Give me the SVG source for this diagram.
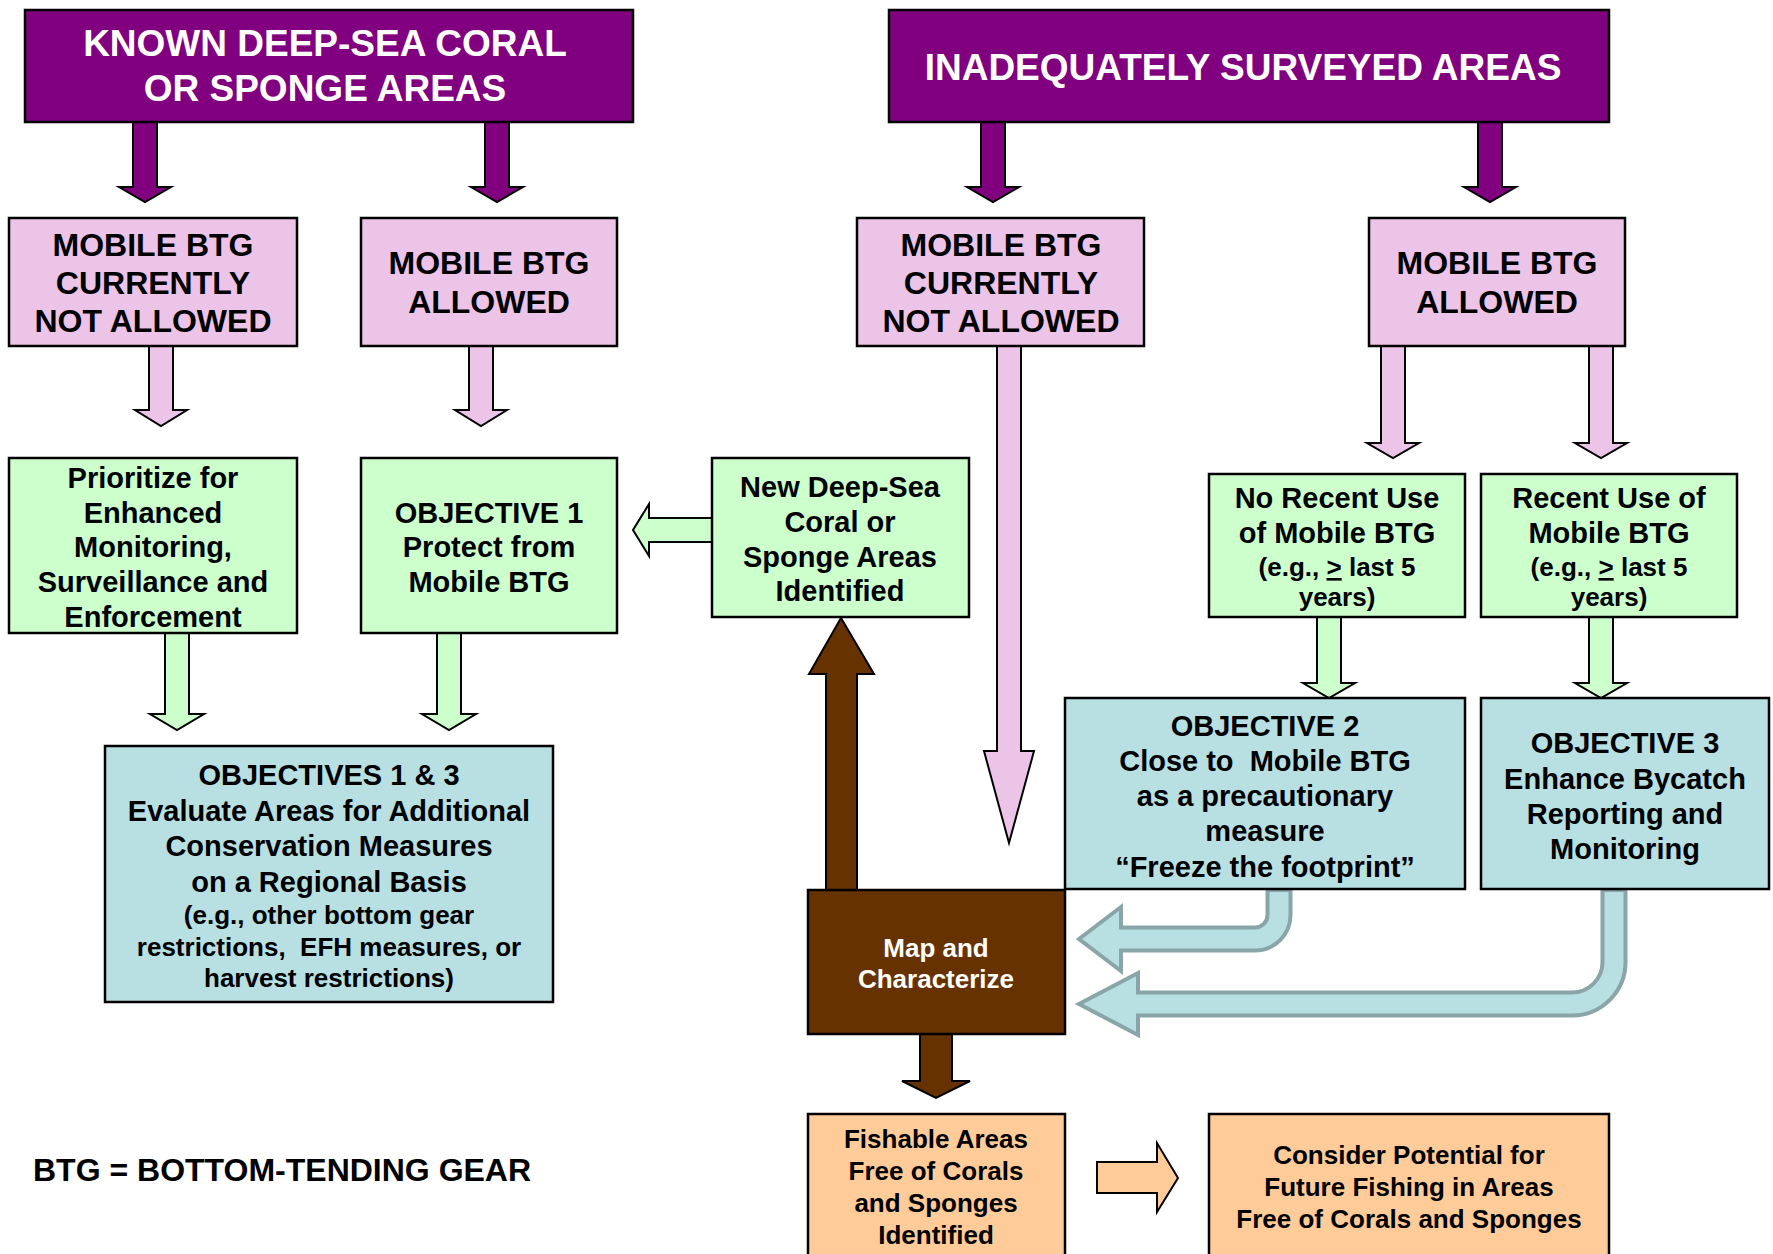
<svg xmlns="http://www.w3.org/2000/svg" width="1773" height="1254" viewBox="0 0 1773 1254">
<style>
text{font-family:"Liberation Sans",Arial,sans-serif;font-weight:bold;text-anchor:middle;fill:#000}
.w{fill:#fff}
.f36{font-size:37px}.f31{font-size:32px}.f29{font-size:29px}.f26{font-size:26px}
.pur{fill:#800080;stroke:#000;stroke-width:2.5}
.pink{fill:#ECC4E8;stroke:#000;stroke-width:2.5}
.grn{fill:#CCFFCC;stroke:#000;stroke-width:2.5}
.blu{fill:#B8DFE1;stroke:#000;stroke-width:2.5}
.brn{fill:#663300;stroke:#000;stroke-width:2.5}
.org{fill:#FFCC99;stroke:#000;stroke-width:2.5}
.ar{stroke:#000;stroke-width:2;stroke-linejoin:miter}
.cvo{fill:none;stroke:#8AA5A7;stroke-width:27}
.cvi{fill:none;stroke:#B8DFE1;stroke-width:19}
.cvh{fill:#B8DFE1;stroke:#8AA5A7;stroke-width:4;stroke-linejoin:miter}
</style>
<rect width="1773" height="1254" fill="#fff"/>
<g id="connectors">
<polygon class="ar" fill="#800080" points="133,122 157,122 157,187 171,187 145,202 119,187 133,187"/>
<polygon class="ar" fill="#800080" points="485,122 509,122 509,187 523,187 497,202 471,187 485,187"/>
<polygon class="ar" fill="#800080" points="981,122 1005,122 1005,187 1019,187 993,202 967,187 981,187"/>
<polygon class="ar" fill="#800080" points="1478,122 1502,122 1502,187 1516,187 1490,202 1464,187 1478,187"/>
<polygon class="ar" fill="#ECC4E8" points="149,346 173,346 173,410 187,410 161,426 135,410 149,410"/>
<polygon class="ar" fill="#ECC4E8" points="469,346 493,346 493,410 507,410 481,426 455,410 469,410"/>
<polygon class="ar" fill="#ECC4E8" points="997,346 1021,346 1021,751 1034,751 1009,843 984,751 997,751"/>
<polygon class="ar" fill="#ECC4E8" points="1381,346 1405,346 1405,443 1419,443 1393,458 1367,443 1381,443"/>
<polygon class="ar" fill="#ECC4E8" points="1589,346 1613,346 1613,443 1627,443 1601,458 1575,443 1589,443"/>
<polygon class="ar" fill="#CCFFCC" points="165,633 189,633 189,714 204,714 177,730 150,714 165,714"/>
<polygon class="ar" fill="#CCFFCC" points="437,633 461,633 461,714 476,714 449,730 422,714 437,714"/>
<polygon class="ar" fill="#CCFFCC" points="1317,617 1341,617 1341,683 1355,683 1329,698 1303,683 1317,683"/>
<polygon class="ar" fill="#CCFFCC" points="1589,617 1613,617 1613,683 1627,683 1601,698 1575,683 1589,683"/>
<polygon class="ar" fill="#CCFFCC" points="712,518 649,518 649,504 633,530 649,556 649,542 712,542"/>
<polygon class="ar" fill="#663300" points="826,890 826,674 809,674 841,618 874,674 857,674 857,890"/>
<polygon class="ar" fill="#663300" points="920,1034 952,1034 952,1081 970,1081 936,1098 902,1081 920,1081"/>
<polygon class="ar" fill="#FFCC99" points="1097,1162 1157,1162 1157,1143 1178,1178 1157,1212 1157,1193 1097,1193"/>
<path class="cvo" d="M1279,888 V915 A24,24 0 0 1 1255,939 H1118"/>
<polygon class="cvh" points="1079,939 1121,907 1121,971"/>
<path class="cvi" d="M1279,892 V915 A24,24 0 0 1 1255,939 H1112"/>
<path class="cvo" d="M1614,888 V962 A42,42 0 0 1 1572,1004 H1135"/>
<polygon class="cvh" points="1079,1004 1138,973 1138,1035"/>
<path class="cvi" d="M1614,892 V962 A42,42 0 0 1 1572,1004 H1129"/>
</g>
<g id="known">
<rect class="pur" x="25" y="10" width="608" height="112"/>
<text class="f36 w" x="325" y="56">KNOWN DEEP-SEA CORAL</text>
<text class="f36 w" x="325" y="101">OR SPONGE AREAS</text>
</g>
<g id="inadequate">
<rect class="pur" x="889" y="10" width="720" height="112"/>
<text class="f36 w" x="1243" y="80">INADEQUATELY SURVEYED AREAS</text>
</g>
<g id="pink1">
<rect class="pink" x="9" y="218" width="288" height="128"/>
<text class="f31" x="153" y="256">MOBILE BTG</text>
<text class="f31" x="153" y="294">CURRENTLY</text>
<text class="f31" x="153" y="332">NOT ALLOWED</text>
</g>
<g id="pink2">
<rect class="pink" x="361" y="218" width="256" height="128"/>
<text class="f31" x="489" y="274">MOBILE BTG</text>
<text class="f31" x="489" y="313">ALLOWED</text>
</g>
<g id="pink3">
<rect class="pink" x="857" y="218" width="287" height="128"/>
<text class="f31" x="1001" y="256">MOBILE BTG</text>
<text class="f31" x="1001" y="294">CURRENTLY</text>
<text class="f31" x="1001" y="332">NOT ALLOWED</text>
</g>
<g id="pink4">
<rect class="pink" x="1369" y="218" width="256" height="128"/>
<text class="f31" x="1497" y="274">MOBILE BTG</text>
<text class="f31" x="1497" y="313">ALLOWED</text>
</g>
<g id="prioritize">
<rect class="grn" x="9" y="458" width="288" height="175"/>
<text class="f29" x="153" y="488">Prioritize for</text>
<text class="f29" x="153" y="523">Enhanced</text>
<text class="f29" x="153" y="557">Monitoring,</text>
<text class="f29" x="153" y="592">Surveillance and</text>
<text class="f29" x="153" y="627">Enforcement</text>
</g>
<g id="objective1">
<rect class="grn" x="361" y="458" width="256" height="175"/>
<text class="f29" x="489" y="523">OBJECTIVE 1</text>
<text class="f29" x="489" y="557">Protect from</text>
<text class="f29" x="489" y="592">Mobile BTG</text>
</g>
<g id="newareas">
<rect class="grn" x="712" y="458" width="257" height="159"/>
<text class="f29" x="840" y="497">New Deep-Sea</text>
<text class="f29" x="840" y="532">Coral or</text>
<text class="f29" x="840" y="567">Sponge Areas</text>
<text class="f29" x="840" y="601">Identified</text>
</g>
<g id="norecent">
<rect class="grn" x="1209" y="474" width="256" height="143"/>
<text class="f29" x="1337" y="508">No Recent Use</text>
<text class="f29" x="1337" y="543">of Mobile BTG</text>
<text class="f26" x="1337" y="576">(e.g., <tspan text-decoration="underline">&gt;</tspan> last 5</text>
<text class="f26" x="1337" y="606">years)</text>
</g>
<g id="recent">
<rect class="grn" x="1481" y="474" width="256" height="143"/>
<text class="f29" x="1609" y="508">Recent Use of</text>
<text class="f29" x="1609" y="543">Mobile BTG</text>
<text class="f26" x="1609" y="576">(e.g., <tspan text-decoration="underline">&gt;</tspan> last 5</text>
<text class="f26" x="1609" y="606">years)</text>
</g>
<g id="objectives13">
<rect class="blu" x="105" y="746" width="448" height="256"/>
<text class="f29" x="329" y="785">OBJECTIVES 1 &amp; 3</text>
<text class="f29" x="329" y="821">Evaluate Areas for Additional</text>
<text class="f29" x="329" y="856">Conservation Measures</text>
<text class="f29" x="329" y="892">on a Regional Basis</text>
<text class="f26" x="329" y="924">(e.g., other bottom gear</text>
<text class="f26" x="329" y="956" xml:space="preserve">restrictions,  EFH measures, or</text>
<text class="f26" x="329" y="987">harvest restrictions)</text>
</g>
<g id="objective2">
<rect class="blu" x="1065" y="698" width="400" height="191"/>
<text class="f29" x="1265" y="736">OBJECTIVE 2</text>
<text class="f29" x="1265" y="771" xml:space="preserve">Close to  Mobile BTG</text>
<text class="f29" x="1265" y="806">as a precautionary</text>
<text class="f29" x="1265" y="841">measure</text>
<text class="f29" x="1265" y="877">“Freeze the footprint”</text>
</g>
<g id="objective3">
<rect class="blu" x="1481" y="698" width="288" height="191"/>
<text class="f29" x="1625" y="753">OBJECTIVE 3</text>
<text class="f29" x="1625" y="789">Enhance Bycatch</text>
<text class="f29" x="1625" y="824">Reporting and</text>
<text class="f29" x="1625" y="859">Monitoring</text>
</g>
<g id="map">
<rect class="brn" x="808" y="890" width="257" height="144"/>
<text class="f26 w" x="936" y="957">Map and</text>
<text class="f26 w" x="936" y="988">Characterize</text>
</g>
<g id="fishable">
<rect class="org" x="808" y="1114" width="257" height="150"/>
<text class="f26" x="936" y="1148">Fishable Areas</text>
<text class="f26" x="936" y="1180">Free of Corals</text>
<text class="f26" x="936" y="1212">and Sponges</text>
<text class="f26" x="936" y="1244">Identified</text>
</g>
<g id="consider">
<rect class="org" x="1209" y="1114" width="400" height="150"/>
<text class="f26" x="1409" y="1164">Consider Potential for</text>
<text class="f26" x="1409" y="1196">Future Fishing in Areas</text>
<text class="f26" x="1409" y="1228">Free of Corals and Sponges</text>
</g>
<g id="legend">
<text class="f31" x="33" y="1181" style="text-anchor:start">BTG = BOTTOM-TENDING GEAR</text>
</g>
</svg>
